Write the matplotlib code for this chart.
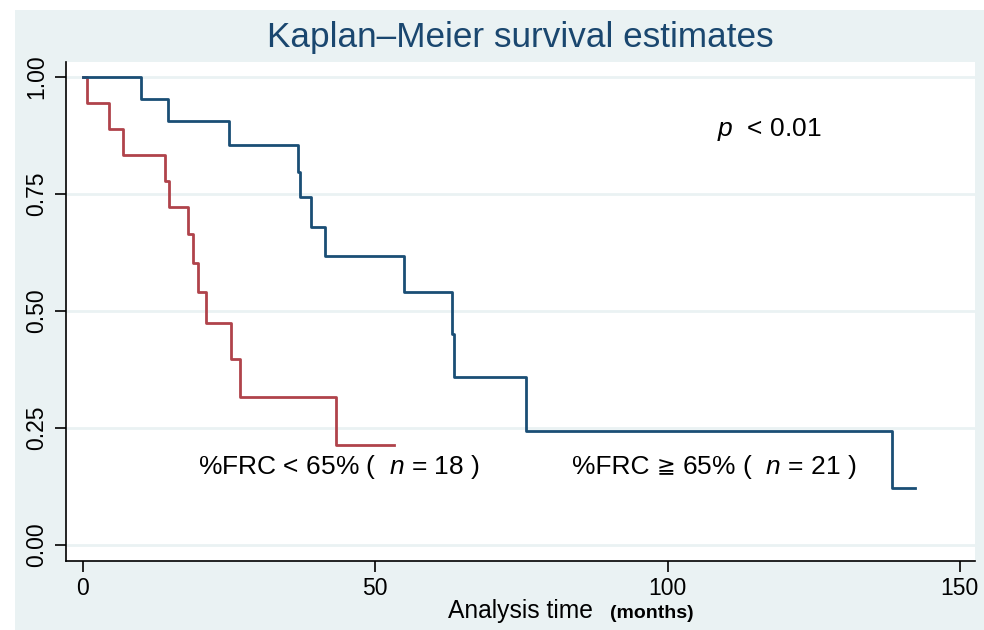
import matplotlib
matplotlib.use("Agg")
import matplotlib.pyplot as plt

# Kaplan-Meier step data (time in months, survival)
low_time = [0, 0.7, 4.5, 6.8, 14.1, 14.8, 18.0, 18.9, 19.7, 21.0, 25.3, 26.9, 43.3, 53.2]
low_surv = [1.0, 0.944, 0.889, 0.833, 0.778, 0.722, 0.664, 0.602, 0.541, 0.475, 0.397, 0.317, 0.214, 0.214]

high_time = [0, 10.0, 14.6, 25.0, 36.8, 37.2, 39.0, 41.4, 54.9, 63.2, 63.4, 75.8, 138.4, 142.3]
high_surv = [1.0, 0.952, 0.905, 0.855, 0.798, 0.743, 0.680, 0.618, 0.540, 0.451, 0.360, 0.244, 0.122, 0.122]

x_ticks = [0, 50, 100, 150]
y_ticks = [0.0, 0.25, 0.5, 0.75, 1.0]
y_labels = ["0.00", "0.25", "0.50", "0.75", "1.00"]

title = "Kaplan\u2013Meier survival estimates"
label_low = "%FRC < 65% (  $n$ = 18 )"
label_high = ["%FRC ", "\u2267", " 65% (  $n$ = 21 )"]
p_text = "$p$  < 0.01"

bg = "#EAF2F3"
navy = "#1A4E75"
red = "#B0434B"

plt.rcParams["font.family"] = ["Liberation Sans", "DejaVu Sans"]
plt.rcParams["mathtext.fontset"] = "custom"
plt.rcParams["mathtext.rm"] = "Liberation Sans"
plt.rcParams["mathtext.it"] = "Liberation Sans:italic"

fig = plt.figure(figsize=(9.84, 6.3), dpi=100, facecolor="white")
# light blue panel behind everything (stata style)
bg_ax = fig.add_axes([15 / 984, 0, 1, 620 / 630], zorder=-5)
bg_ax.set_facecolor(bg)
bg_ax.set_xticks([])
bg_ax.set_yticks([])
for s in bg_ax.spines.values():
    s.set_visible(False)

ax = fig.add_axes([66 / 984, 69 / 630, 909 / 984, 499 / 630])
ax.set_facecolor("white")

ax.step(low_time, low_surv, where="post", color=red, lw=2)
ax.step(high_time, high_surv, where="post", color=navy, lw=2)

ax.set_xlim(-2.9, 152.6)
ax.set_ylim(-0.034, 1.032)
ax.set_xticks(x_ticks)
ax.set_yticks(y_ticks)
ax.set_yticklabels(y_labels, rotation=90, va="center")
ax.tick_params(axis="both", direction="out", length=8, width=1.2, labelsize=16.5,
               color="black")
ax.tick_params(axis="y", pad=5)
ax.grid(axis="y", color=bg, lw=2)
ax.set_axisbelow(True)
for s in ["top", "right"]:
    ax.spines[s].set_visible(False)
for s in ["left", "bottom"]:
    ax.spines[s].set_linewidth(1.2)

fs = 19
ax.text(19.6, 0.167, label_low, fontsize=fs, va="center")
# the >= sign is missing in Liberation Sans, so draw it in DejaVu Sans
t1 = ax.text(83.6, 0.167, label_high[0], fontsize=fs, va="center")
t2 = ax.annotate(label_high[1], xy=(1, 0.5), xycoords=t1, fontsize=fs - 3,
                 va="center", family="DejaVu Sans")
ax.annotate(label_high[2], xy=(1, 0.5), xycoords=t2, fontsize=fs, va="center")
ax.text(108.4, 0.887, p_text, fontsize=fs, va="center")

fig.text(520 / 984, 1 - 37 / 630, title, fontsize=25.3, color="#1A476F",
         ha="center", va="center")
fig.text(448 / 984, 1 - 611 / 630, "Analysis time", fontsize=17.7, ha="left", va="center")
fig.text(610 / 984, 1 - 613 / 630, "(months)", fontsize=14, fontweight="bold",
         ha="left", va="center")

fig.savefig("out.png", dpi=100, facecolor=fig.get_facecolor())
